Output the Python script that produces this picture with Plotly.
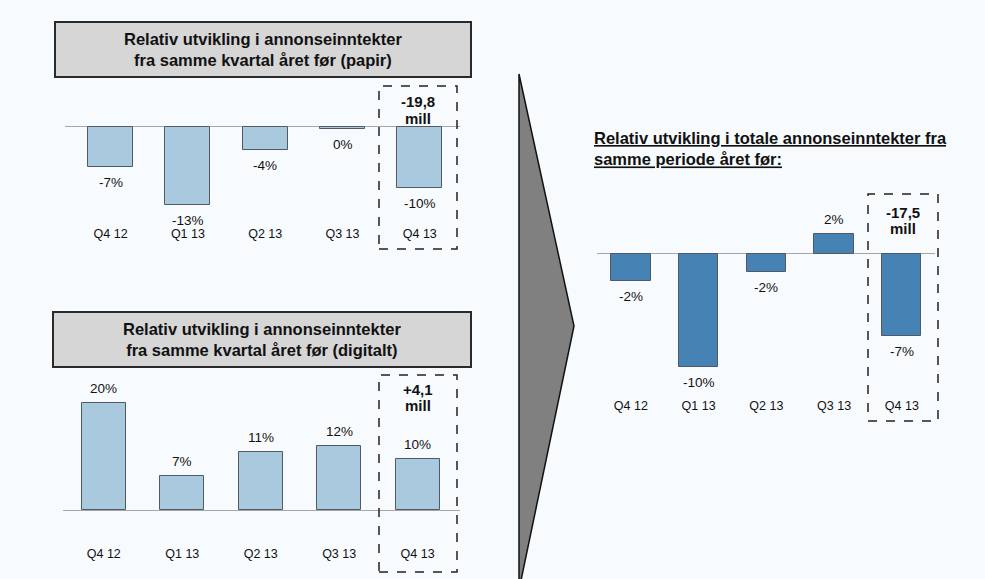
import plotly.graph_objects as go

# quarters shared by all three panels
QUARTERS = ["Q4 12", "Q1 13", "Q2 13", "Q3 13", "Q4 13"]

# relative change in ad revenue, same quarter previous year (%)
PAPER = [-6.7, -13.0, -3.8, -0.3, -10.2]
PAPER_LABELS = ["-7%", "-13%", "-4%", "0%", "-10%"]
DIGITAL = [20.2, 6.4, 10.9, 12.1, 9.6]
DIGITAL_LABELS = ["20%", "7%", "11%", "12%", "10%"]
TOTAL = [-2.4, -10.0, -1.6, 1.8, -7.3]
TOTAL_LABELS = ["-2%", "-10%", "-2%", "2%", "-7%"]

# highlighted last quarter, in million NOK
MILL_PAPER = "-19,8"
MILL_DIGITAL = "+4,1"
MILL_TOTAL = "-17,5"

W, H = 985, 579
BG = "#f8fbfe"
LIGHT = "#a9c9df"
DARK = "#4682b4"
FONT = "Liberation Sans, Arial, sans-serif"


def px(x0, x1):
    return [x0 / W, x1 / W]


def py(top, bottom):
    return [1 - bottom / H, 1 - top / H]


fig = go.Figure()

# (values, labels, colour, axis suffix, x range, x domain px, y range, y domain px, bar width)
panels = [
    (PAPER, PAPER_LABELS, LIGHT, "", [-0.59, 4.52], (65, 460), [-16.2, 7.0], (85, 224), 0.58),
    (DIGITAL, DIGITAL_LABELS, LIGHT, "2", [-0.52, 4.54], (63, 460), [-6.4, 25.5], (375, 544), 0.56),
    (TOTAL, TOTAL_LABELS, DARK, "3", [-0.5, 4.49], (597, 935), [-12.6, 5.3], (194, 396), 0.58),
]

layout_axes = {}
annotations = []
for vals, labels, color, sfx, xr, xd, yr, yd, bw in panels:
    xa = "x" + sfx
    ya = "y" + sfx
    fig.add_trace(go.Bar(
        x=list(range(len(QUARTERS))), y=vals, width=bw,
        marker=dict(color=color, line=dict(color="#4f5a66", width=1)),
        xaxis=xa, yaxis=ya, showlegend=False, hoverinfo="skip",
    ))
    layout_axes["xaxis" + sfx] = dict(
        domain=px(*xd), range=xr, anchor=ya,
        tickmode="array", tickvals=list(range(len(QUARTERS))), ticktext=QUARTERS,
        showgrid=False, zeroline=False, showline=False, ticks="",
        tickfont=dict(family=FONT, size=12.5, color="#111"), fixedrange=True,
    )
    layout_axes["yaxis" + sfx] = dict(
        domain=py(*yd), range=yr, anchor=xa,
        showgrid=False, showticklabels=False, showline=False, ticks="",
        zeroline=True, zerolinecolor="#a6a6a6", zerolinewidth=1, fixedrange=True,
    )
    for i, (v, lab) in enumerate(zip(vals, labels)):
        neg = v < 0
        annotations.append(dict(
            x=i, y=v, xref=xa, yref=ya, text=lab, showarrow=False,
            xanchor="center", yanchor="top" if neg else "bottom", yshift=-6 if neg else 5,
            font=dict(family=FONT, size=13.5, color="#111"),
        ))

fig.update_layout(**layout_axes)

# boxed headers for the two left panels
for top, bottom, left, title in [
    (22, 77, 55, "Relativ utvikling i annonseinntekter<br>fra samme kvartal året før (papir)"),
    (312, 367, 53, "Relativ utvikling i annonseinntekter<br>fra samme kvartal året før (digitalt)"),
]:
    fig.add_shape(type="rect", xref="paper", yref="paper",
                  x0=left / W, x1=471 / W, y0=1 - bottom / H, y1=1 - top / H,
                  fillcolor="#d6d6d6", line=dict(color="#2a2a2a", width=2), layer="below")
    annotations.append(dict(
        x=(left + 471) / 2 / W, y=1 - (top + bottom) / 2 / H, xref="paper", yref="paper",
        xanchor="center", yanchor="middle",
        text="<b>" + title + "</b>", showarrow=False, align="center",
        font=dict(family=FONT, size=16.5, color="#111"),
    ))

# underlined header for the total panel
annotations.append(dict(
    x=592 / W, y=1 - 149 / H, xref="paper", yref="paper", xanchor="left", yanchor="middle",
    text="<b><u>Relativ utvikling i totale annonseinntekter fra</u><br><u>samme periode året før:</u></b>",
    showarrow=False, align="left", font=dict(family=FONT, size=16.5, color="#111"),
))

# dashed boxes around the last quarter, with the amount in millions
for x0, x1, y0, y1, mill, ymill in [
    (379, 457, 86, 249, MILL_PAPER, 102),
    (379, 457, 375, 572, MILL_DIGITAL, 389),
    (868, 938, 194, 421, MILL_TOTAL, 212),
]:
    fig.add_shape(type="rect", xref="paper", yref="paper",
                  x0=x0 / W, x1=x1 / W, y0=1 - y1 / H, y1=1 - y0 / H,
                  line=dict(color="#222", width=1.5, dash="dash"))
    for txt, yy in [(mill, ymill), ("mill", ymill + 16)]:
        annotations.append(dict(
            x=(x0 + x1) / 2 / W, y=1 - yy / H, xref="paper", yref="paper",
            xanchor="center", yanchor="middle",
            text="<b>" + txt + "</b>", showarrow=False,
            font=dict(family=FONT, size=15, color="#111"),
        ))

# big grey arrow in the middle
fig.add_shape(type="path", xref="paper", yref="paper",
              path=f"M {519 / W},{1 - 74 / H} L {574 / W},{1 - 326 / H} L {519 / W},{1 - 590 / H} Z",
              fillcolor="#808080", line=dict(color="#111", width=1.5))

fig.update_layout(
    width=W, height=H, margin=dict(l=0, r=0, t=0, b=0),
    paper_bgcolor=BG, plot_bgcolor="rgba(0,0,0,0)",
    annotations=annotations, bargap=0, showlegend=False,
    font=dict(family=FONT),
)

fig.write_html(
    "out.html",
    config={"displayModeBar": False},
    post_script="document.body.style.margin='0';document.body.style.overflow='hidden';",
)
